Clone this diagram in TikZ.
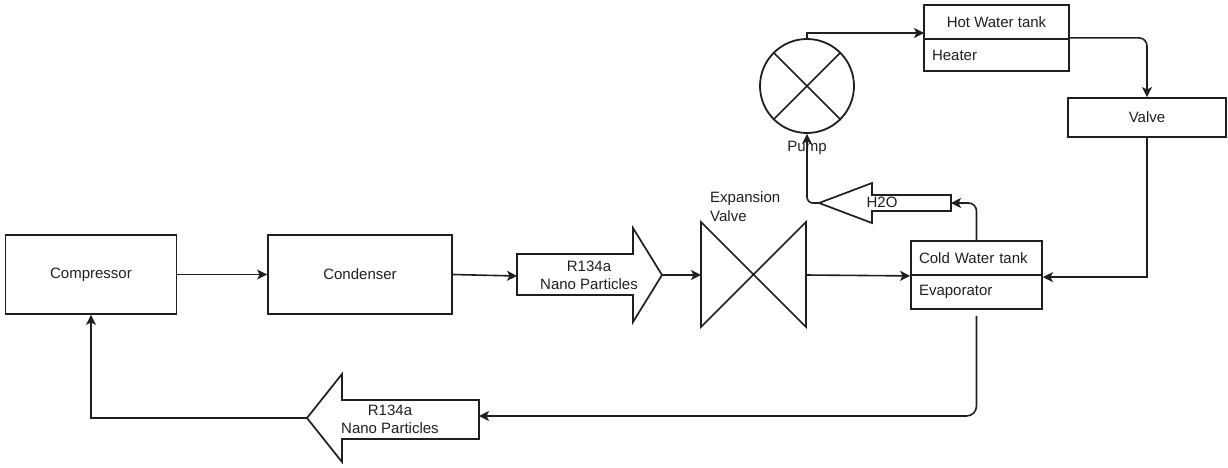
\documentclass[tikz,border=0pt]{standalone}
\usepackage{fontspec}
\setmainfont{Liberation Sans}
\usetikzlibrary{arrows.meta,calc}
\definecolor{ink}{gray}{0.12}
\begin{document}
\begin{tikzpicture}[x=1pt,y=-1pt,
  lbl/.style={font=\fontsize{15}{18}\selectfont,inner sep=0pt,text=ink},
  box/.style={draw=ink,line width=1.8pt,inner sep=0pt,lbl},
  conn/.style={draw=ink,line width=1.6pt,-{Stealth[length=10pt,width=10pt,inset=2.5pt]}},
  shp/.style={draw=ink,line width=1.7pt,line join=miter}]
\useasboundingbox (0,0) rectangle (1228,467);

% main boxes
\node[box,minimum width=171pt,minimum height=79pt] (comp) at (91,274.5) {Compressor};
\node[box,minimum width=184pt,minimum height=79pt] (cond) at (360,274.5) {Condenser};
\node[box,minimum width=158pt,minimum height=39pt] (valve) at (1147,117.5) {Valve};

% hot water tank
\node[box,minimum width=145pt,minimum height=34pt] (hot) at (996.5,22) {Hot Water tank};
\node[box,minimum width=145pt,minimum height=32pt,text width=129pt,align=left] (heater) at (996.5,55) {Heater};

% cold water tank
\node[box,minimum width=131pt,minimum height=34pt,text width=115pt,align=left] (cold) at (976.5,258) {Cold Water tank};
\node[box,minimum width=131pt,minimum height=34pt,text width=115pt,align=left] (evap) at (976.5,292) {Evaporator};

% pump
\node[draw=ink,circle,line width=1.8pt,minimum size=94pt,inner sep=0pt] (pump) at (807,86) {};
\draw[draw=ink,line width=1.7pt] (pump.45) -- (pump.225) (pump.135) -- (pump.-45);
\node[lbl] (pumplbl) at (807,148) {Pump};

% expansion valve
\draw[shp] (701,222) -- (806,327) -- (806,222) -- (701,327) -- cycle;
\coordinate (evin) at (701,275);
\coordinate (evout) at (806,275);
\node[lbl,align=left,anchor=west,font=\fontsize{15}{19}\selectfont] (evlbl) at (710,206.5) {Expansion\\Valve};

% R134a arrow (right)
\draw[shp] (517,254) -- (633,254) -- (633,228) -- (662,275) -- (633,322) -- (633,295) -- (517,295) -- cycle;
\coordinate (r1in) at (517,276);
\coordinate (r1tip) at (662,275);
\node[lbl,align=center,font=\fontsize{15}{18}\selectfont] (r1lbl) at (589,275) {R134a\\Nano Particles};

% R134a arrow (left, bottom)
\draw[shp] (479,400) -- (342,400) -- (342,374) -- (307,418) -- (342,462) -- (342,439) -- (479,439) -- cycle;
\coordinate (r2in) at (479,416);
\coordinate (r2tip) at (307,418);
\node[lbl,align=center,font=\fontsize{15}{18}\selectfont] (r2lbl) at (390,419) {R134a\\Nano Particles};

% H2O arrow (left)
\draw[shp] (951,195) -- (872,195) -- (872,183) -- (819,203) -- (872,223) -- (872,211) -- (951,211) -- cycle;
\coordinate (h2oin) at (951,203);
\coordinate (h2otip) at (819,203);
\node[lbl] (h2olbl) at (882,202) {H2O};

% connectors
\coordinate (hotin) at (924,33);
\draw[conn] (comp.east) -- (cond.west);
\draw[conn] (cond.east) -- (r1in);
\draw[conn] (r1tip) -- (evin);
\draw[conn] (evout) -- (cold.south west);
\draw[conn] (valve.south) |- ($(evap.north east)+(0,3)$);
\draw[conn,rounded corners=8pt] ($(hot.south east)+(0,-2)$) -| (valve.north);
\draw[conn] (pump.north) |- (hotin);
\draw[conn,rounded corners=8pt] (cold.north) |- (h2oin);
\draw[conn,rounded corners=6pt] (h2otip) -| (pump.south);
\draw[conn,rounded corners=10pt] ([yshift=-6pt]evap.south) |- (r2in);
\draw[conn] (r2tip) -| (comp.south);
\end{tikzpicture}
\end{document}
